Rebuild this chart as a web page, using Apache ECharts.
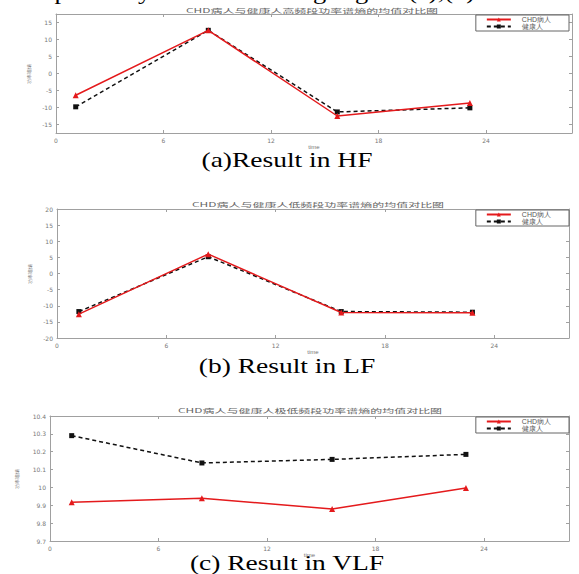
<!DOCTYPE html>
<html><head><meta charset="utf-8">
<script src="https://cdn.jsdelivr.net/npm/echarts@6/dist/echarts.min.js"></script>
<style>html,body{margin:0;padding:0;background:#fff}#c{width:579px;height:574px}</style>
</head><body><div id="c"></div>
<script>
// ---- data ----
const seriesNames = ['CHD病人', '健康人'];
const xTickValues = [0, 6, 12, 18, 24];
// (a) HF
const timeHF = [1.1, 8.5, 15.7, 23.1];
const hfCHD = [-6.4, 12.7, -12.5, -8.7];
const hfHealthy = [-9.8, 12.7, -11.3, -10.1];
const yTicksHF = [-15, -10, -5, 0, 5, 10, 15];
// (b) LF
const timeLF = [1.2, 8.3, 15.6, 22.8];
const lfCHD = [-12.6, 6.0, -12.1, -12.2];
const lfHealthy = [-11.8, 5.2, -11.8, -12.0];
const yTicksLF = [-20, -15, -10, -5, 0, 5, 10, 15, 20];
// (c) VLF
const timeVLF = [1.2, 8.4, 15.6, 23.0];
const vlfCHD = [9.917, 9.94, 9.879, 9.997];
const vlfHealthy = [10.29, 10.137, 10.157, 10.185];
const yTicksVLF = [9.7, 9.8, 9.9, 10, 10.1, 10.2, 10.3, 10.4];
// texts
const plotTitles = ['CHD病人与健康人高频段功率谱熵的均值对比图', 'CHD病人与健康人低频段功率谱熵的均值对比图', 'CHD病人与健康人极低频段功率谱熵的均值对比图'];
const captions = ['(a)Result in HF', '(b) Result in LF', '(c) Result in VLF'];
const yName = '功率谱熵';
const xName = 'time';

// ---- layout ----
const panels = [
  {left: 56, right: 7, top: 14, height: 119, xmax: 28.8, ymin: -17.5, ymax: 17.5, yt: yTicksHF, t: timeHF, a: hfCHD, b: hfHealthy, nameGap: 25, legTop: 15, titleY: 10, capY: 159, titleX: 312},
  {left: 57, right: 10, top: 209, height: 129, xmax: 28.1, ymin: -20, ymax: 20, yt: yTicksLF, t: timeLF, a: lfCHD, b: lfHealthy, nameGap: 25, legTop: 210, titleY: 204, capY: 365, titleX: 318},
  {left: 50, right: 10, top: 416, height: 125, xmax: 28.7, ymin: 9.7, ymax: 10.4, yt: yTicksVLF, t: timeVLF, a: vlfCHD, b: vlfHealthy, nameGap: 31, legTop: 417, titleY: 410, capY: 562, titleX: 310}
];

const axisColor = '#a0a0a0';
const labelColor = '#777';
const grid = [], xAxis = [], yAxis = [], series = [], legend = [], graphic = [];

panels.forEach((p, i) => {
  grid.push({left: p.left, right: p.right, top: p.top, height: p.height});
  const common = (vals, showLabel) => ({
    axisLine: {show: true, onZero: false, lineStyle: {color: axisColor, width: 1}},
    axisTick: {show: true, inside: true, length: 3, customValues: vals, lineStyle: {color: axisColor}},
    axisLabel: {show: showLabel, fontSize: 6, color: labelColor, margin: 4, customValues: vals, fontFamily: 'DejaVu Sans'},
    splitLine: {show: false}
  });
  xAxis.push(Object.assign({type: 'value', gridIndex: i, min: 0, max: p.xmax, position: 'bottom',
    name: xName, nameLocation: 'middle', nameGap: 9,
    nameTextStyle: {fontSize: 6, color: labelColor}}, common(xTickValues, true)));
  xAxis.push(Object.assign({type: 'value', gridIndex: i, min: 0, max: p.xmax, position: 'top'}, common(xTickValues, false)));
  yAxis.push(Object.assign({type: 'value', gridIndex: i, min: p.ymin, max: p.ymax, position: 'left',
    name: yName, nameLocation: 'middle', nameGap: p.nameGap, nameRotate: 90,
    nameTextStyle: {fontSize: 5, color: labelColor}}, common(p.yt, true)));
  yAxis.push(Object.assign({type: 'value', gridIndex: i, min: p.ymin, max: p.ymax, position: 'right'}, common(p.yt, false)));

  series.push({
    type: 'line', name: seriesNames[0], xAxisIndex: 2 * i, yAxisIndex: 2 * i,
    data: p.t.map((x, k) => [x, p.a[k]]),
    symbol: 'triangle', symbolSize: 6, itemStyle: {color: '#e41a1c'},
    lineStyle: {color: '#e41a1c', width: 1.5}, z: 3
  });
  series.push({
    type: 'line', name: seriesNames[1], xAxisIndex: 2 * i, yAxisIndex: 2 * i,
    data: p.t.map((x, k) => [x, p.b[k]]),
    symbol: 'rect', symbolSize: 5, itemStyle: {color: '#111'},
    lineStyle: {color: '#111', width: 1.5, type: [4, 3]}, z: 2
  });

  legend.push({
    data: seriesNames, orient: 'vertical', right: 10, top: p.legTop,
    itemWidth: 24, itemHeight: 5, itemGap: 0, padding: [1, 18, 1, 10],
    borderColor: '#666', borderWidth: 1, borderRadius: 0, backgroundColor: '#fff',
    textStyle: {fontSize: 7, color: '#555', lineHeight: 5, padding: [0, 0, 0, 6]}
  });

  graphic.push({
    type: 'text', x: p.titleX, y: p.titleY, scaleX: 2.0,
    style: {text: plotTitles[i], font: '6px "Noto Sans CJK SC"', fill: '#666', textAlign: 'center', textVerticalAlign: 'middle'}
  });
  graphic.push({
    type: 'text', x: 287, y: p.capY, scaleX: 1.25,
    style: {text: captions[i], font: '22px "Liberation Serif"', fill: '#000', textAlign: 'center', textVerticalAlign: 'middle'}
  });
});

graphic.push({
  type: 'text', x: 475, y: 2, scaleX: 1.2,
  style: {text: 'respectively in the following Figure (a),(b)', font: '22px "Liberation Serif"', fill: '#000', textAlign: 'right', textVerticalAlign: 'bottom'}
});

const chart = echarts.init(document.getElementById('c'), null, {renderer: 'svg'});
chart.setOption({animation: false, backgroundColor: '#fff', grid, xAxis, yAxis, series, legend, graphic});
</script></body></html>
